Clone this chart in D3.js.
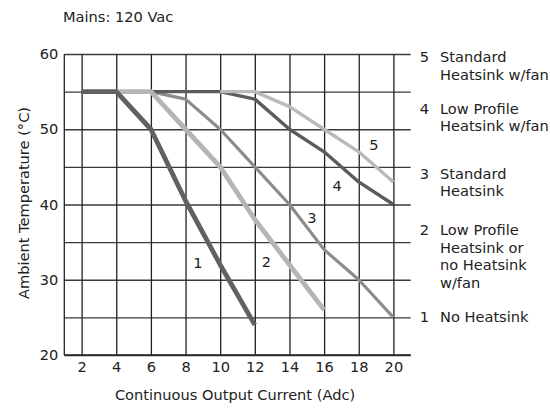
<!DOCTYPE html>
<html>
<head>
<meta charset="utf-8">
<script src="https://cdn.jsdelivr.net/npm/d3@7"></script>
<style>
  html, body { margin: 0; padding: 0; background: #fff; }
  svg { display: block; }
  text { font-family: "DejaVu Sans", Verdana, sans-serif; fill: #222; }
</style>
</head>
<body>
<svg id="chart" width="550" height="412"></svg>
<script>
// Derating curves: ambient temperature vs continuous output current
const xTicks = [2, 4, 6, 8, 10, 12, 14, 16, 18, 20];
const yTicks = [20, 30, 40, 50, 60];
const yGrid = [20, 25, 30, 35, 40, 45, 50, 55, 60];

const curve1 = [[2, 55], [4, 55], [6, 50], [8, 40.5], [10, 32], [12, 24]];
const curve2 = [[4, 55], [6, 55], [8, 50], [10, 45], [12, 38], [14, 32], [16, 26]];
const curve3 = [[6, 55], [8, 54], [10, 50], [12, 45], [14, 40], [16, 34], [18, 30], [20, 25]];
const curve4 = [[6, 55], [10, 55], [12, 54], [14, 50], [16, 47], [18, 43], [20, 40]];
const curve5 = [[10, 55], [12, 55], [14, 53], [16, 50], [18, 47], [20, 43]];

const curveIds = ["1", "2", "3", "4", "5"];
const curveLabelPos = [[8.72, 32.2], [12.67, 32.4], [15.3, 38.3], [16.75, 42.5], [18.88, 47.9]];

const legendIds = ["5", "4", "3", "2", "1"];
const legendLines = [
  ["Standard", "Heatsink w/fan"],
  ["Low Profile", "Heatsink w/fan"],
  ["Standard", "Heatsink"],
  ["Low Profile", "Heatsink or", "no Heatsink", "w/fan"],
  ["No Heatsink"]
];
const legendTop = [57, 108.3, 173.3, 230, 316.7];

const svg = d3.select("#chart");
const plotL = 64.3, plotR = 410.7, plotT = 54, plotB = 355;
const fs = 14.6;

const x = d3.scaleLinear().domain([1, 21]).range([plotL, plotR]);
const y = d3.scaleLinear().domain([20, 60]).range([plotB, plotT]);

// horizontal grid
const gy = svg.append("g").attr("transform", `translate(${plotL},0)`)
  .call(d3.axisLeft(y).tickValues(yGrid).tickSize(-(plotR - plotL)).tickFormat(""));
gy.select(".domain").remove();
gy.selectAll(".tick line").attr("stroke", "#3a3a3a").attr("stroke-width", 1.3);

// vertical grid
const gx = svg.append("g").attr("transform", `translate(0,${plotB})`)
  .call(d3.axisBottom(x).tickValues(xTicks).tickSize(-(plotB - plotT)).tickFormat(""));
gx.select(".domain").remove();
gx.selectAll(".tick line").attr("stroke", "#222").attr("stroke-width", 1.3);

// left axis line and bottom axis line
svg.append("line").attr("x1", plotL).attr("x2", plotL).attr("y1", plotT).attr("y2", plotB)
  .attr("stroke", "#222").attr("stroke-width", 1.3);
svg.append("line").attr("x1", plotL).attr("x2", plotR).attr("y1", plotB).attr("y2", plotB)
  .attr("stroke", "#222").attr("stroke-width", 1.5);

// tick labels
const ly = svg.append("g").attr("transform", `translate(${plotL},0)`)
  .call(d3.axisLeft(y).tickValues(yTicks).tickSize(0).tickPadding(6));
ly.select(".domain").remove();
ly.selectAll("text").attr("font-size", fs).attr("font-family", "DejaVu Sans").attr("fill", "#222");

const lx = svg.append("g").attr("transform", `translate(0,${plotB})`)
  .call(d3.axisBottom(x).tickValues(xTicks).tickSize(0).tickPadding(6.5));
lx.select(".domain").remove();
lx.selectAll("text").attr("font-size", fs).attr("font-family", "DejaVu Sans").attr("fill", "#222");

// curves
const line = d3.line().x(d => x(d[0])).y(d => y(d[1]));
const curveStyles = [
  { data: curve3, color: "#8c8c8c", w: 3.2 },
  { data: curve4, color: "#5c5c5c", w: 3.4 },
  { data: curve5, color: "#bababa", w: 3.4 },
  { data: curve2, color: "#b5b5b5", w: 4.8 },
  { data: curve1, color: "#616161", w: 4.8 }
];
curveStyles.forEach(c => {
  svg.append("path").datum(c.data).attr("d", line)
    .attr("fill", "none").attr("stroke", c.color).attr("stroke-width", c.w)
    .attr("stroke-linejoin", "round").attr("stroke-linecap", "butt");
});

// curve numbers
svg.selectAll(".cl").data(curveIds).enter().append("text")
  .attr("x", (d, i) => x(curveLabelPos[i][0]))
  .attr("y", (d, i) => y(curveLabelPos[i][1]))
  .attr("text-anchor", "middle").attr("dy", "0.36em")
  .attr("font-size", fs).text(d => d);

// legend on the right
legendIds.forEach((id, i) => {
  const g = svg.append("g");
  g.append("text").attr("x", 424.5).attr("y", legendTop[i]).attr("dy", "0.36em")
    .attr("text-anchor", "middle").attr("font-size", fs).text(id);
  legendLines[i].forEach((t, j) => {
    g.append("text").attr("x", 440).attr("y", legendTop[i] + j * 17.6).attr("dy", "0.36em")
      .attr("font-size", fs).text(t);
  });
});

// title and axis titles
svg.append("text").attr("x", 63).attr("y", 22).attr("font-size", fs).text("Mains: 120 Vac");
svg.append("text").attr("x", 235).attr("y", 400).attr("text-anchor", "middle")
  .attr("font-size", fs).text("Continuous Output Current (Adc)");
svg.append("text").attr("transform", "translate(28.5,203) rotate(-90)")
  .attr("text-anchor", "middle").attr("font-size", fs).text("Ambient Temperature (°C)");
</script>
</body>
</html>
